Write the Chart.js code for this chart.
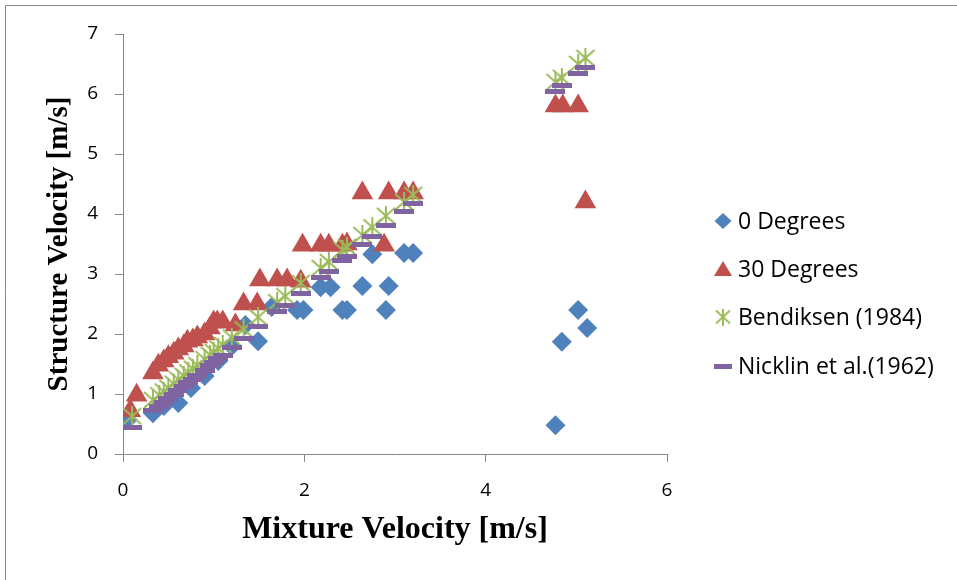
<!DOCTYPE html>
<html>
<head>
<meta charset="utf-8">
<script src="https://cdn.jsdelivr.net/npm/chart.js@4/dist/chart.umd.min.js"></script>
<style>
  html, body { margin: 0; padding: 0; background: #fff; }
  #wrap { position: relative; width: 957px; height: 580px; }
</style>
</head>
<body>
<div id="wrap"><canvas id="myChart"></canvas></div>
<script>
// Measured data (mixture velocity vs structure velocity, m/s)
const deg0X = [0.05, 0.33, 0.45, 0.61, 0.75, 0.9, 1.05, 1.2, 1.35, 1.49, 1.64, 1.92, 1.99, 2.18, 2.29, 2.42, 2.47, 2.64, 2.75, 2.9, 2.93, 3.1, 3.2, 4.77, 4.84, 5.02, 5.12];
const deg0Y = [0.57, 0.68, 0.8, 0.85, 1.1, 1.3, 1.55, 1.8, 2.15, 1.88, 2.45, 2.4, 2.4, 2.78, 2.78, 2.4, 2.4, 2.8, 3.33, 2.4, 2.8, 3.35, 3.35, 0.48, 1.87, 2.4, 2.1];

const deg30X = [0.08, 0.15, 0.33, 0.39, 0.45, 0.5, 0.56, 0.61, 0.67, 0.71, 0.77, 0.82, 0.9, 0.96, 1.0, 1.04, 1.1, 1.24, 1.33, 1.48, 1.51, 1.7, 1.81, 1.96, 1.98, 2.18, 2.27, 2.42, 2.47, 2.64, 2.88, 2.93, 3.1, 3.2, 4.77, 4.85, 5.02, 5.1];
const deg30Y = [0.72, 0.98, 1.35, 1.48, 1.55, 1.62, 1.68, 1.75, 1.8, 1.88, 1.9, 1.95, 2.0, 2.1, 2.2, 2.2, 2.2, 2.15, 2.5, 2.5, 2.9, 2.9, 2.9, 2.88, 3.48, 3.48, 3.48, 3.48, 3.5, 4.35, 3.48, 4.35, 4.35, 4.35, 5.8, 5.8, 5.8, 4.2];

// Model predictions
const modelX = [0.1, 0.33, 0.4, 0.45, 0.5, 0.56, 0.61, 0.67, 0.72, 0.77, 0.82, 0.9, 0.96, 1.0, 1.05, 1.1, 1.2, 1.33, 1.49, 1.7, 1.79, 1.96, 2.18, 2.27, 2.42, 2.47, 2.64, 2.75, 2.9, 3.1, 3.2, 4.77, 4.84, 5.02, 5.1];
const bendY = [0.63, 0.9, 0.98, 1.04, 1.1, 1.17, 1.24, 1.3, 1.36, 1.42, 1.48, 1.58, 1.65, 1.7, 1.76, 1.82, 1.94, 2.08, 2.28, 2.53, 2.63, 2.85, 3.1, 3.2, 3.4, 3.45, 3.65, 3.78, 3.97, 4.2, 4.32, 6.2, 6.27, 6.5, 6.6];
const nickY = [0.45, 0.72, 0.8, 0.86, 0.92, 1.0, 1.06, 1.13, 1.19, 1.25, 1.31, 1.4, 1.48, 1.53, 1.59, 1.65, 1.77, 1.92, 2.12, 2.37, 2.47, 2.68, 2.94, 3.05, 3.23, 3.29, 3.5, 3.63, 3.81, 4.05, 4.17, 6.05, 6.14, 6.35, 6.45];

const xTicks = [0, 2, 4, 6];
const yTicks = [0, 1, 2, 3, 4, 5, 6, 7];

const seriesNames = ['0 Degrees', '30 Degrees', 'Bendiksen (1984)', 'Nicklin et al.(1962)'];
const colors = ['#4F81BD', '#C0504D', '#9BBB59', '#8064A2'];

function pairs(xs, ys) {
    return xs.map((x, i) => ({ x: x, y: ys[i] }));
}

// Excel style markers that Chart.js has no built-in for
function starMarker(w, h) {
    const c = document.createElement('canvas');
    c.width = w; c.height = h;
    const g = c.getContext('2d');
    g.strokeStyle = colors[2];
    g.lineWidth = 2;
    g.beginPath();
    g.moveTo(2, 2); g.lineTo(w - 2, h - 2);
    g.moveTo(w - 2, 2); g.lineTo(2, h - 2);
    g.moveTo(w / 2, 0); g.lineTo(w / 2, h);
    g.stroke();
    return c;
}
function dashMarker(w, h) {
    const c = document.createElement('canvas');
    c.width = w; c.height = h;
    const g = c.getContext('2d');
    g.fillStyle = colors[3];
    g.fillRect(0, 0, w, h);
    return c;
}
const starImg = starMarker(22, 20);
const dashImg = dashMarker(20, 5);
const starLegend = starMarker(18, 17);
const dashLegend = dashMarker(18, 5);

// Frame and legend, placed like the Excel original
const extras = {
    id: 'extras',
    beforeDraw(chart) {
        const ctx = chart.ctx;
        ctx.save();
        ctx.fillStyle = '#fff';
        ctx.fillRect(0, 0, chart.width, chart.height);
        ctx.strokeStyle = '#868686';
        ctx.lineWidth = 1;
        ctx.beginPath();
        ctx.moveTo(5.5, chart.height);
        ctx.lineTo(5.5, 5.5);
        ctx.lineTo(chart.width, 5.5);
        ctx.stroke();
        ctx.restore();
    },
    afterDraw(chart) {
        const ctx = chart.ctx;
        const mx = 723, tx = 738;
        const rows = [221, 269, 317, 366];
        ctx.save();
        rows.forEach((y, i) => {
            ctx.fillStyle = colors[i];
            ctx.beginPath();
            if (i === 0) {
                ctx.moveTo(mx - 8.5, y); ctx.lineTo(mx, y - 8); ctx.lineTo(mx + 8.5, y); ctx.lineTo(mx, y + 8);
                ctx.closePath(); ctx.fill();
            } else if (i === 1) {
                ctx.moveTo(mx - 9, y + 7); ctx.lineTo(mx, y - 8); ctx.lineTo(mx + 9, y + 7);
                ctx.closePath(); ctx.fill();
            } else if (i === 2) {
                ctx.drawImage(starLegend, mx - 9, y - 8.5);
            } else {
                ctx.drawImage(dashLegend, mx - 9, y - 2.5);
            }
            ctx.fillStyle = '#000';
            ctx.font = '23px "Open Sans"';
            ctx.textBaseline = 'middle';
            ctx.textAlign = 'left';
            ctx.fillText(seriesNames[i], tx, y + 1);
        });
        ctx.restore();
    }
};

const tickFont = { family: '"Open Sans"', size: 19 };

new Chart(document.getElementById('myChart').getContext('2d'), {
    type: 'scatter',
    data: {
        datasets: [
            { label: seriesNames[3], data: pairs(modelX, nickY), pointStyle: dashImg, order: 0 },
            { label: seriesNames[2], data: pairs(modelX, bendY), pointStyle: starImg, order: 1 },
            { label: seriesNames[1], data: pairs(deg30X, deg30Y), pointStyle: 'triangle', pointRadius: 12.5,
              backgroundColor: colors[1], borderColor: colors[1], borderWidth: 0, order: 2 },
            { label: seriesNames[0], data: pairs(deg0X, deg0Y), pointStyle: 'rectRot', pointRadius: 10,
              backgroundColor: colors[0], borderColor: colors[0], borderWidth: 0, order: 3 }
        ]
    },
    options: {
        responsive: true,
        maintainAspectRatio: false,
        animation: false,
        events: [],
        layout: { padding: { top: 34, right: 290, bottom: 0, left: 0 } },
        plugins: {
            legend: { display: false },
            tooltip: { enabled: false }
        },
        scales: {
            x: {
                type: 'linear',
                min: 0,
                max: 6,
                afterBuildTicks: (s) => { s.ticks = xTicks.map(v => ({ value: v })); },
                afterFit: (s) => { s.height = 126; },
                ticks: { font: tickFont, color: '#000', padding: 17 },
                grid: { drawOnChartArea: false, drawTicks: true, tickLength: 8, color: '#868686' },
                border: { color: '#868686' },
                title: { display: true, text: 'Mixture Velocity [m/s]', color: '#000',
                         font: { family: '"Liberation Serif"', size: 32, weight: 'bold' },
                         padding: { top: 0, bottom: 31 } }
            },
            y: {
                type: 'linear',
                min: 0,
                max: 7,
                afterBuildTicks: (s) => { s.ticks = yTicks.map(v => ({ value: v })); },
                afterFit: (s) => { s.width = 123; },
                ticks: { font: tickFont, color: '#000', padding: 17 },
                grid: { drawOnChartArea: false, drawTicks: true, tickLength: 8, color: '#868686' },
                border: { color: '#868686' },
                title: { display: true, text: 'Structure Velocity [m/s]', color: '#000',
                         font: { family: '"Liberation Serif"', size: 29, weight: 'bold' },
                         padding: { top: 42, bottom: 0 } }
            }
        }
    },
    plugins: [extras]
});
</script>
</body>
</html>
